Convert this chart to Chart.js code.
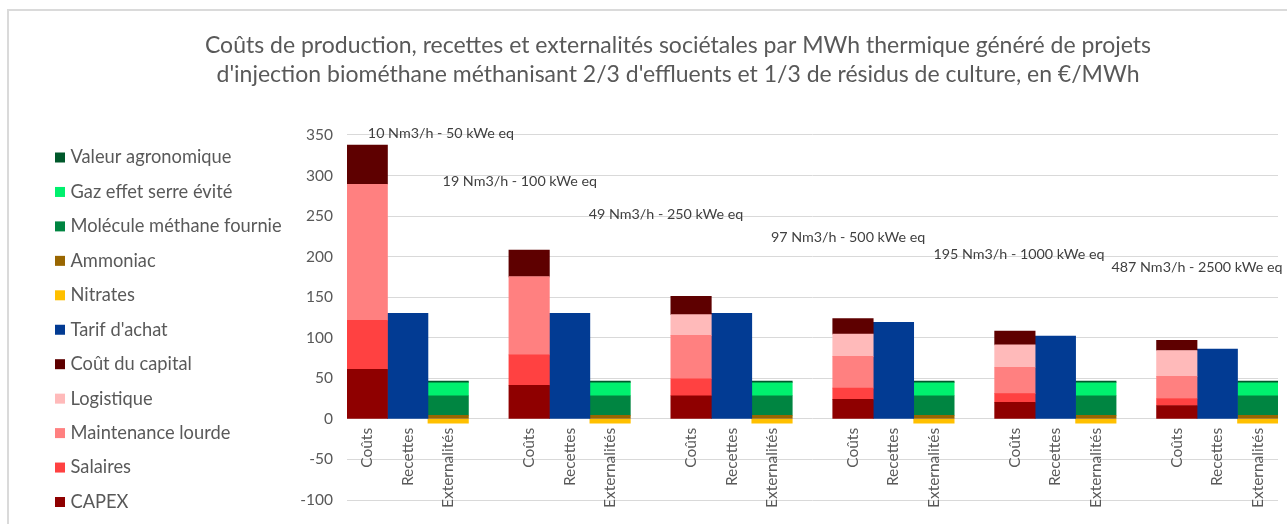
<!DOCTYPE html>
<html>
<head>
<meta charset="utf-8">
<script src="https://cdn.jsdelivr.net/npm/chart.js@4.4.1/dist/chart.umd.min.js"></script>
<style>
  html, body { margin: 0; padding: 0; background: #ffffff; overflow: hidden; }
  #frame { position: absolute; left: 7px; top: 9px; width: 1400px; height: 600px;
           border-left: 2px solid #dadada; border-top: 2px solid #dadada; box-sizing: border-box; }
  #c { position: absolute; left: 0; top: 0; }
</style>
</head>
<body>
<div id="frame"></div>
<canvas id="c" width="1287" height="524"></canvas>
<script>
// ---------- data ----------
const titleLines = [
  "Coûts de production, recettes et externalités sociétales par MWh thermique généré de projets",
  "d'injection biométhane méthanisant 2/3 d'effluents et 1/3 de résidus de culture, en €/MWh"
];
const barTypes = ["Coûts", "Recettes", "Externalités"];
const groupLabels = [
  "10 Nm3/h - 50 kWe eq",
  "19 Nm3/h - 100 kWe eq",
  "49 Nm3/h - 250 kWe eq",
  "97 Nm3/h - 500 kWe eq",
  "195 Nm3/h - 1000 kWe eq",
  "487 Nm3/h - 2500 kWe eq"
];
// Coûts (stacked)
const capex        = [61, 41.5, 28.5, 24, 20.5, 16.5];
const salaires     = [60.5, 37.5, 21, 14, 10.7, 8.6];
const maintenance  = [167.5, 96, 53.5, 39, 32.5, 27.2];
const logistique   = [0, 0, 25.5, 27.5, 27.6, 32];
const coutCapital  = [48.5, 33, 22.5, 19, 17, 12.4];
// Recettes
const tarifAchat   = [130, 130, 130, 119, 102, 86];
// Externalités (stacked)
const nitrates     = [-5.3, -5.3, -5.3, -5.3, -5.3, -5.3];
const ammoniac     = [4.5, 4.5, 4.5, 4.5, 4.5, 4.5];
const molecule     = [24, 24, 24, 24, 24, 24];
const gazSerre     = [16, 16, 16, 16, 16, 16];
const valeurAgro   = [2, 2, 2, 2, 2, 2];
const yTicks = { min: -100, max: 350, step: 50 };

// ---------- build categories / series ----------
const categories = [];
groupLabels.forEach((g, gi) => {
  barTypes.forEach(t => categories.push(t));
  if (gi < groupLabels.length - 1) categories.push("");
});
function place(values, slot) {
  const arr = new Array(categories.length).fill(null);
  values.forEach((v, gi) => { arr[gi * 4 + slot] = v; });
  return arr;
}
const seriesDefs = [
  { label: "CAPEX", values: capex, slot: 0, color: "#8f0000" },
  { label: "Salaires", values: salaires, slot: 0, color: "#ff4141" },
  { label: "Maintenance lourde", values: maintenance, slot: 0, color: "#ff8080" },
  { label: "Logistique", values: logistique, slot: 0, color: "#ffbaba" },
  { label: "Coût du capital", values: coutCapital, slot: 0, color: "#5e0000" },
  { label: "Tarif d'achat", values: tarifAchat, slot: 1, color: "#023b93" },
  { label: "Nitrates", values: nitrates, slot: 2, color: "#ffc000" },
  { label: "Ammoniac", values: ammoniac, slot: 2, color: "#996600" },
  { label: "Molécule méthane fournie", values: molecule, slot: 2, color: "#008541" },
  { label: "Gaz effet serre évité", values: gazSerre, slot: 2, color: "#00f06e" },
  { label: "Valeur agronomique", values: valeurAgro, slot: 2, color: "#00582b" }
];
const datasets = seriesDefs.map(s => ({
  label: s.label,
  data: place(s.values, s.slot),
  backgroundColor: s.color,
  borderWidth: 0,
  barPercentage: 1,
  categoryPercentage: 1
}));

// ---------- layout constants (not data) ----------
const FONT = "Lato";
const TEXT = "#595959";
// anchor of each group caption: fractional category index / value
const captionAnchors = [
  { i: 1.82, v: 352 }, { i: 3.77, v: 293 }, { i: 7.38, v: 252 },
  { i: 11.88, v: 223.5 }, { i: 16.1, v: 202.5 }, { i: 20.5, v: 186.5 }
];

const decor = {
  id: "decor",
  afterDraw(chart) {
    const ctx = chart.ctx;
    const xs = chart.scales.x, ys = chart.scales.y;
    ctx.save();
    // group captions
    ctx.font = "14.3px " + FONT;
    ctx.fillStyle = "#404040";
    ctx.textAlign = "center";
    ctx.textBaseline = "middle";
    groupLabels.forEach((txt, k) => {
      const a = captionAnchors[k];
      ctx.fillText(txt, xs.getPixelForValue(a.i), ys.getPixelForValue(a.v));
    });
    // legend (reverse series order, like the original)
    const items = chart.data.datasets.slice().reverse();
    const x0 = 55, y0 = 157.5, step = 34.45, box = 10;
    ctx.font = "18.3px " + FONT;
    ctx.textAlign = "left";
    items.forEach((ds, k) => {
      const y = y0 + k * step;
      ctx.fillStyle = ds.backgroundColor;
      ctx.fillRect(x0, y - box / 2, box, box);
      ctx.fillStyle = TEXT;
      ctx.fillText(ds.label, x0 + 15.5, y);
    });
    ctx.restore();
  }
};

new Chart(document.getElementById("c"), {
  type: "bar",
  data: { labels: categories, datasets },
  plugins: [decor],
  options: {
    responsive: false,
    animation: false,
    devicePixelRatio: 1,
    layout: { padding: { left: 78, top: 0, right: 9, bottom: 24 } },
    plugins: {
      legend: { display: false },
      tooltip: { enabled: false },
      title: {
        display: true,
        text: titleLines,
        color: TEXT,
        font: { family: FONT, size: 23, weight: "normal", lineHeight: 1.26 },
        padding: { top: 31, bottom: 46 }
      }
    },
    scales: {
      x: {
        stacked: true,
        position: { y: 0 },
        grid: { display: false, drawTicks: false },
        border: { display: false },
        ticks: {
          autoSkip: false, maxRotation: 90, minRotation: 90, padding: 9,
          color: TEXT, font: { family: FONT, size: 15.5 }
        }
      },
      y: {
        stacked: true,
        min: yTicks.min, max: yTicks.max,
        grid: { color: "#d9d9d9", lineWidth: 1, drawTicks: false },
        border: { display: false },
        ticks: { stepSize: yTicks.step, padding: 14, color: TEXT, font: { family: FONT, size: 15.5 } },
        afterFit(scale) { scale.width = 269; }
      }
    }
  }
});
</script>
</body>
</html>
